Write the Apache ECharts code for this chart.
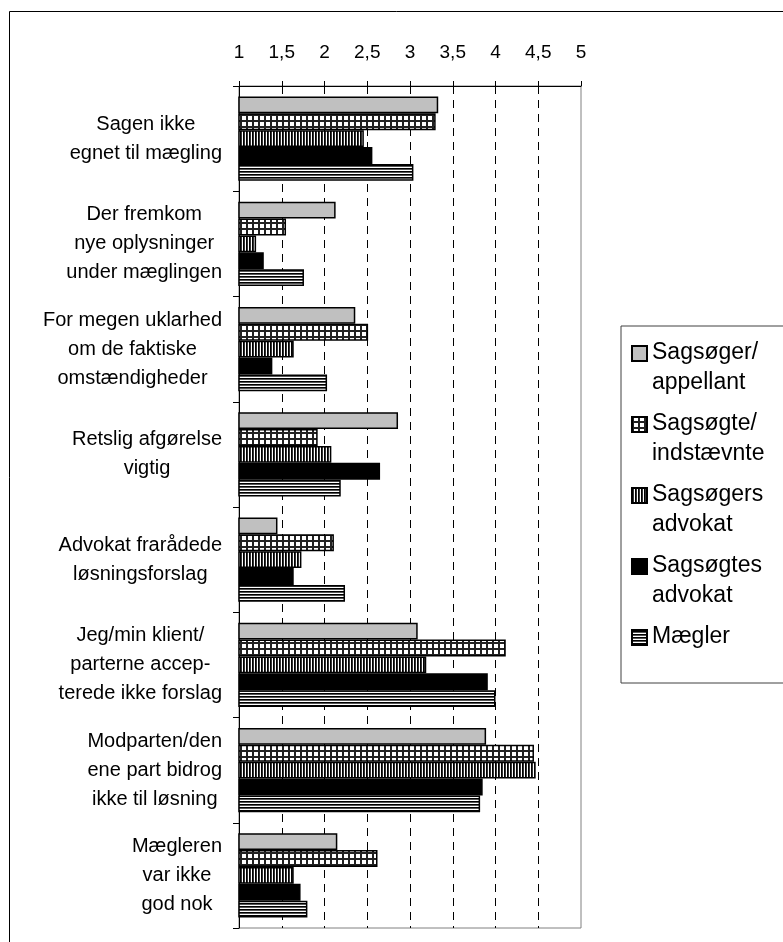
<!DOCTYPE html>
<html lang="da">
<head>
    <meta charset="UTF-8">
    <title>Mægling</title>
    <script src="https://cdn.jsdelivr.net/npm/echarts@6/dist/echarts.min.js"></script>
    <style>
        * {
            margin: 0;
            padding: 0;
        }

        #chart {
            width: 783px;
            height: 942px;
            background: #fff;
        }
    </style>
</head>
<body>
    <div id="chart"></div>
    <script>
        // kategorier (top -> bund)
        const categories = [
            'Sagen ikke\negnet til mægling',
            'Der fremkom\nnye oplysninger\nunder mæglingen',
            'For megen uklarhed\nom de faktiske\nomstændigheder',
            'Retslig afgørelse\nvigtig',
            'Advokat frarådede\nløsningsforslag',
            'Jeg/min klient/\nparterne accep-\nterede ikke forslag',
            'Modparten/den\nene part bidrog\nikke til løsning',
            'Mægleren\nvar ikke\ngod nok'
        ]
        const seriesNames = ['Sagsøger/\nappellant', 'Sagsøgte/\nindstævnte', 'Sagsøgers\nadvokat', 'Sagsøgtes\nadvokat', 'Mægler']

        const sagsoger = [3.33, 2.13, 2.36, 2.86, 1.45, 3.09, 3.89, 2.15]
        const sagsogte = [3.30, 1.55, 2.51, 1.92, 2.11, 4.12, 4.45, 2.62]
        const sagsogersAdvokat = [2.46, 1.20, 1.64, 2.08, 1.73, 3.19, 4.47, 1.64]
        const sagsogtesAdvokat = [2.56, 1.29, 1.39, 2.65, 1.64, 3.91, 3.85, 1.72]
        const maegler = [3.04, 1.76, 2.03, 2.19, 2.24, 4.00, 3.82, 1.80]

        // fyldmønstre
        function makePattern(w, h, draw) {
            const c = document.createElement('canvas')
            c.width = w
            c.height = h
            const ctx = c.getContext('2d')
            ctx.fillStyle = '#fff'
            ctx.fillRect(0, 0, w, h)
            draw(ctx)
            return { image: c, repeat: 'repeat' }
        }
        const gridPattern = makePattern(6, 6, ctx => {
            ctx.fillStyle = '#222'
            ctx.fillRect(0, 0, 6, 2)
            ctx.fillRect(0, 0, 2, 6)
        })
        const vStripes = makePattern(3, 1, ctx => {
            ctx.fillStyle = '#000'
            ctx.fillRect(0, 0, 1, 1)
            ctx.fillStyle = '#333'
            ctx.fillRect(1, 0, 1, 1)
        })
        const hStripes = makePattern(1, 3, ctx => {
            ctx.fillStyle = '#000'
            ctx.fillRect(0, 0, 1, 1)
            ctx.fillStyle = '#555'
            ctx.fillRect(0, 1, 1, 1)
        })

        const fills = ['#c0c0c0', gridPattern, vStripes, '#000', hStripes]
        const values = [sagsoger, sagsogte, sagsogersAdvokat, sagsogtesAdvokat, maegler]

        const font = 'Liberation Sans, Arial, sans-serif'
        const chart = echarts.init(document.getElementById('chart'))

        const option = {
            backgroundColor: '#fff',
            animation: false,
            graphic: [{
                type: 'rect',
                shape: { x: 9.5, y: 11.5, width: 900, height: 1000 },
                style: { fill: 'none', stroke: '#000', lineWidth: 1 },
                silent: true
            }],
            legend: {
                orient: 'vertical',
                left: 621,
                top: 326,
                padding: [11, 60, 0, 10],
                itemGap: 9,
                itemWidth: 15,
                itemHeight: 60,
                icon: 'path://M0,0M0,8h15v15h-15zM15,60',
                borderColor: '#404040',
                borderWidth: 1,
                backgroundColor: '#fff',
                formatter: n => n.indexOf('\n') < 0 ? n + '\n ' : n,
                textStyle: {
                    fontFamily: font,
                    fontSize: 23,
                    lineHeight: 30,
                    color: '#000'
                },
                data: seriesNames
            },
            grid: {
                left: 239,
                right: 202,
                top: 86,
                bottom: 14,
                show: true,
                borderColor: '#808080',
                borderWidth: 1
            },
            xAxis: {
                type: 'value',
                position: 'top',
                min: 1,
                max: 5,
                interval: 0.5,
                axisLine: { show: true, lineStyle: { color: '#000', width: 1 } },
                axisTick: { show: true, inside: false, length: 5, lineStyle: { color: '#000' } },
                axisLabel: {
                    margin: 24,
                    fontFamily: font,
                    fontSize: 19,
                    color: '#000',
                    formatter: v => String(v).replace('.', ',')
                },
                splitLine: {
                    show: true,
                    showMinLine: false,
                    showMaxLine: false,
                    lineStyle: { color: '#000', type: [8, 6], width: 1 }
                }
            },
            yAxis: {
                type: 'category',
                inverse: true,
                data: categories,
                axisLine: { show: true, lineStyle: { color: '#000', width: 1 } },
                axisTick: { show: true, length: 6, lineStyle: { color: '#000' } },
                axisLabel: {
                    interval: 0,
                    margin: 17,
                    color: '#000',
                    formatter: v => '{c|' + v + '}',
                    rich: {
                        c: {
                            align: 'center',
                            fontFamily: font,
                            fontSize: 20,
                            lineHeight: 29,
                            color: '#000'
                        }
                    }
                },
                splitLine: { show: false }
            },
            series: seriesNames.map((name, i) => ({
                name: name,
                type: 'bar',
                data: values[i],
                barGap: '0%',
                barCategoryGap: '20%',
                clip: true,
                itemStyle: {
                    color: fills[i],
                    borderColor: '#000',
                    borderWidth: 1.5
                }
            }))
        }

        chart.setOption(option)
    </script>
</body>
</html>
